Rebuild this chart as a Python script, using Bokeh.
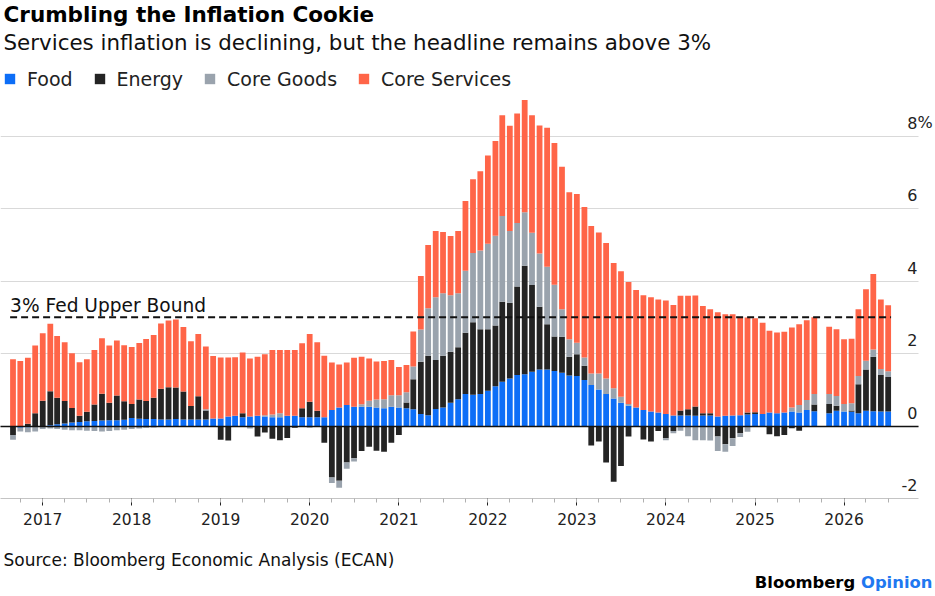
import numpy as np
import pandas as pd
from bokeh.plotting import figure
from bokeh.layouts import column
from bokeh.models import (ColumnDataSource, Range1d, FixedTicker, Grid, Label,
                          Legend, LegendItem, DatetimeTickFormatter)
from bokeh.embed import file_html
from bokeh.resources import INLINE

FONT = "DejaVu Sans"

# ---------------- data (percentage-point contributions to CPI y/y) ----------------
# Monthly, Sep 2016 .. Jul 2026; October 2025 was not published (gap in the chart)
months = pd.date_range("2016-09-01", "2026-07-01", freq="MS")
months = months[months != pd.Timestamp("2025-10-01")]

food = [
    -0.02, -0.05, -0.04, -0.02,                                              # 2016 Sep-Dec
    0.00, 0.02, 0.05, 0.07, 0.10, 0.11, 0.13, 0.14, 0.15, 0.16, 0.16, 0.17,  # 2017
    0.22, 0.20, 0.19, 0.19, 0.18, 0.18, 0.19, 0.18, 0.18, 0.18, 0.18, 0.21,  # 2018
    0.21, 0.26, 0.28, 0.24, 0.26, 0.28, 0.26, 0.24, 0.24, 0.28, 0.28, 0.24,  # 2019
    0.24, 0.24, 0.24, 0.44, 0.51, 0.58, 0.53, 0.53, 0.53, 0.51, 0.49, 0.53,  # 2020
    0.51, 0.49, 0.46, 0.33, 0.30, 0.47, 0.51, 0.64, 0.74, 0.88, 0.86, 0.88,  # 2021
    0.97, 1.10, 1.22, 1.31, 1.41, 1.43, 1.50, 1.56, 1.56, 1.52, 1.47, 1.39,  # 2022
    1.38, 1.27, 1.13, 1.01, 0.88, 0.76, 0.64, 0.56, 0.51, 0.44, 0.40, 0.37,  # 2023
    0.33, 0.29, 0.29, 0.29, 0.28, 0.29, 0.29, 0.26, 0.28, 0.29, 0.30, 0.32,  # 2024
    0.33, 0.33, 0.37, 0.35, 0.37, 0.40, 0.37, 0.44, 0.41, 0.35, 0.42,        # 2025 (no Oct)
    0.40, 0.39, 0.35, 0.42, 0.41, 0.40, 0.40,                                # 2026 Jan-Jul
]
energy = [
    -0.23, 0.00, 0.06, 0.35,
    0.70, 0.94, 0.73, 0.62, 0.40, 0.17, 0.26, 0.45, 0.74, 0.48, 0.68, 0.51,
    0.39, 0.53, 0.50, 0.59, 0.85, 0.89, 0.87, 0.77, 0.37, 0.64, 0.25, 0.00,
    -0.38, -0.40, 0.00, 0.11, 0.00, -0.29, -0.18, -0.35, -0.39, -0.33, -0.05, 0.25,
    0.43, 0.18, -0.46, -1.42, -1.51, -1.01, -0.89, -0.69, -0.57, -0.68, -0.71, -0.46,
    -0.25, 0.16, 0.83, 1.44, 1.64, 1.35, 1.43, 1.41, 1.43, 1.69, 2.00, 1.79,
    1.70, 1.67, 2.21, 2.09, 2.44, 2.99, 2.39, 1.73, 1.25, 0.95, 0.99, 0.52,
    0.60, 0.39, -0.54, -0.43, -1.01, -1.54, -1.10, -0.29, 0.00, -0.37, -0.43, -0.14,
    -0.34, -0.14, 0.14, 0.17, 0.26, 0.06, 0.06, -0.29, -0.50, -0.34, -0.20, 0.05,
    0.05, 0.00, -0.23, -0.28, -0.25, -0.06, -0.13, 0.00, 0.18, 0.26, 0.14,
    0.00, 0.04, 0.80, 1.14, 1.50, 1.01, 0.95,
]
core_goods = [
    -0.13, -0.10, -0.13, -0.13,
    -0.08, -0.07, -0.08, -0.10, -0.12, -0.12, -0.13, -0.14, -0.15, -0.14, -0.12, -0.10,
    -0.08, -0.07, -0.05, -0.04, -0.03, -0.02, -0.02, -0.02, -0.02, 0.00, 0.03, 0.00,
    0.00, 0.00, 0.00, 0.00, -0.07, 0.00, 0.04, 0.08, 0.11, 0.00, 0.00, 0.00,
    -0.05, 0.00, 0.00, -0.15, -0.19, -0.17, -0.09, 0.07, 0.17, 0.22, 0.25, 0.32,
    0.34, 0.28, 0.35, 0.89, 1.31, 1.73, 1.72, 1.56, 1.49, 1.71, 1.91, 2.17,
    2.36, 2.48, 2.36, 1.98, 1.75, 1.48, 1.44, 1.47, 1.58, 1.43, 0.76, 0.48,
    0.32, 0.23, 0.32, 0.44, 0.43, 0.28, 0.17, 0.05, 0.00, 0.00, 0.00, 0.00,
    -0.05, -0.06, -0.13, -0.28, -0.39, -0.39, -0.40, -0.40, -0.21, -0.21, -0.10, -0.16,
    0.00, 0.00, 0.00, 0.00, 0.00, 0.11, 0.21, 0.28, 0.29, 0.27, 0.27,
    0.21, 0.20, 0.23, 0.24, 0.20, 0.16, 0.16,
]
core_services = [
    1.84, 1.79, 1.82, 1.87,
    1.86, 1.86, 1.70, 1.62, 1.51, 1.48, 1.45, 1.51, 1.53, 1.58, 1.52, 1.55,
    1.57, 1.56, 1.71, 1.73, 1.80, 1.84, 1.88, 1.78, 1.79, 1.72, 1.73, 1.72,
    1.68, 1.63, 1.62, 1.68, 1.60, 1.63, 1.68, 1.78, 1.75, 1.82, 1.82, 1.79,
    1.87, 1.89, 1.70, 1.31, 1.19, 1.17, 1.35, 1.31, 1.16, 1.05, 1.05, 0.97,
    0.78, 0.75, 0.97, 1.48, 1.74, 1.83, 1.69, 1.63, 1.72, 1.93, 2.04, 2.19,
    2.43, 2.61, 2.78, 2.90, 3.02, 3.09, 3.24, 3.53, 3.84, 3.91, 3.93, 4.06,
    4.10, 4.15, 4.07, 3.89, 3.74, 3.46, 3.46, 3.36, 3.24, 3.17, 3.15, 3.12,
    3.13, 3.05, 3.16, 3.13, 3.06, 2.96, 2.87, 2.88, 2.80, 2.79, 2.69, 2.62,
    2.59, 2.52, 2.26, 2.23, 2.23, 2.21, 2.23, 2.20, 2.12, 1.86, 1.84,
    1.78, 1.78, 1.84, 1.97, 2.08, 1.92, 1.82,
]

series_names = ["Food", "Energy", "Core Goods", "Core Services"]
series_colors = ["#0D6EF7", "#242424", "#9AA3AD", "#FF6548"]

year_ticks = pd.date_range("2017-01-01", "2026-01-01", freq="YS")
quarter_ticks = pd.date_range("2016-10-01", "2026-07-01", freq="QS-JAN")
y_ticks = [-2, 0, 2, 4, 6, 8]
y_tick_labels = ["-2", "0", "2", "4", "6", "8"]
fed_upper_bound = 3.0

for arr in (food, energy, core_goods, core_services):
    assert len(arr) == len(months), len(arr)


def ms(t):
    return pd.Timestamp(t).value / 1e6


# ---------------- layout (page has no margin: figure px == page px) ----------------
W = 935
FRAME_B = 498          # page y of the frame bottom (value -2)
AXIS_H = 37            # x-axis panel below the frame
CHART_H = FRAME_B + AXIS_H
FOOT_H = 596 - CHART_H
GRID_END_PX = 918      # horizontal rules stop here
PX_PER_UNIT = 36.25
PX_PER_MONTH = 7.42
FIRST_BAR_PX = 12.5
MS_PER_PX = 30.4375 * 86400000 / PX_PER_MONTH
TXT_SHIFT = 0.31       # label anchor correction (in em) so baselines land where wanted
y_start = -2.0
y_end = y_start + FRAME_B / PX_PER_UNIT
x_start = ms(months[0]) - FIRST_BAR_PX * MS_PER_PX
x_end = x_start + W * MS_PER_PX
x_grid_end = x_start + GRID_END_PX * MS_PER_PX


def sy(page_y, size):
    return FRAME_B - page_y + TXT_SHIFT * size


p = figure(width=W, height=CHART_H, x_axis_type="datetime", y_axis_location=None,
           x_range=Range1d(x_start, x_end), y_range=Range1d(y_start, y_end),
           toolbar_location=None, output_backend="svg",
           min_border_left=0, min_border_right=0, min_border_top=0,
           min_border_bottom=AXIS_H,
           outline_line_color=None, background_fill_color="white",
           border_fill_color="white")
p.xgrid.visible = False
p.ygrid.visible = False

HAS_CROSS = "cross_bounds" in Grid.properties()


def hrules(ticks, color, width, level):
    if HAS_CROSS:
        p.add_layout(Grid(dimension=1, ticker=FixedTicker(ticks=ticks),
                          grid_line_color=color, grid_line_width=width,
                          cross_bounds=(x_start, x_grid_end), level=level))
    else:
        p.segment(x0=[x_start] * len(ticks), x1=[x_grid_end] * len(ticks),
                  y0=ticks, y1=ticks, line_color=color, line_width=width, level=level)


hrules(y_ticks, "#d9d9d9", 1, "underlay")

xa = p.xaxis[0]
xa.ticker = FixedTicker(ticks=[ms(t) for t in year_ticks],
                        minor_ticks=[ms(t) for t in quarter_ticks])
xa.formatter = DatetimeTickFormatter(years="%Y", months="%Y", days="%Y")
xa.bounds = (x_start, x_grid_end)
xa.axis_line_color = "#c4c4c4"
xa.major_tick_line_color = "#222222"
xa.major_tick_in = 0
xa.major_tick_out = 7
xa.minor_tick_line_color = "#b0b0b0"
xa.minor_tick_in = 0
xa.minor_tick_out = 4
xa.major_label_text_font = FONT
xa.major_label_text_font_size = "15.5px"
xa.major_label_text_color = "#222222"
xa.major_label_standoff = 7

# ---------------- stacked bars ----------------
bar_width = 0.78 * 30.44 * 24 * 3600 * 1000
pos = np.zeros(len(months))
neg = np.zeros(len(months))
renderers = []
for name, vals, color in zip(series_names, [food, energy, core_goods, core_services], series_colors):
    v = np.asarray(vals, dtype=float)
    base = np.where(v >= 0, pos, neg)
    top = base + v
    pos = np.where(v >= 0, top, pos)
    neg = np.where(v < 0, top, neg)
    src = ColumnDataSource(dict(x=months, bottom=base, top=top, value=v))
    r = p.vbar(x="x", width=bar_width, bottom="bottom", top="top", source=src,
               fill_color=color, line_color=None)
    renderers.append((name, r))

# zero line above the bars
hrules([0], "#111111", 1.5, "guide")

half = bar_width / 2
FED_SIZE = 18.6
p.segment(x0=[ms(months[0]) - half], x1=[ms(months[-1]) + half],
          y0=[fed_upper_bound], y1=[fed_upper_bound],
          line_color="#111111", line_width=2, line_dash="7 4")
p.add_layout(Label(x=ms(months[0]) - half, y=fed_upper_bound,
                   y_offset=6 + TXT_SHIFT * FED_SIZE,
                   text="3% Fed Upper Bound", text_font=FONT, text_font_size=f"{FED_SIZE}px",
                   text_color="#111111", text_align="left", text_baseline="alphabetic"))

# right-hand value labels, sitting above their gridlines
LAB_X = 917
LAB_SIZE = 16
for t, lab in zip(y_ticks, y_tick_labels):
    p.add_layout(Label(x=LAB_X, x_units="screen", y=t, y_units="data",
                       y_offset=8.5 + TXT_SHIFT * LAB_SIZE,
                       text=lab, text_font=FONT, text_font_size=f"{LAB_SIZE}px",
                       text_color="#222222", text_align="right", text_baseline="alphabetic"))
p.add_layout(Label(x=LAB_X, x_units="screen", y=y_ticks[-1], y_units="data",
                   y_offset=8.5 + TXT_SHIFT * LAB_SIZE,
                   text="%", text_font=FONT, text_font_size=f"{LAB_SIZE}px", text_color="#222222",
                   text_align="left", text_baseline="alphabetic"))

# legend (inside the frame, above the bars)
legend = Legend(items=[LegendItem(label=n, renderers=[r]) for n, r in renderers],
                orientation="horizontal", location=(3, FRAME_B - 89.5),
                glyph_width=13, glyph_height=13, label_standoff=11, spacing=20,
                padding=0, margin=0, border_line_color=None, background_fill_alpha=0,
                label_text_font=FONT, label_text_font_size="19px",
                label_text_color="#222222", label_height=13)
p.add_layout(legend)

# titles
TITLE_SIZE, SUB_SIZE = 21.5, 21.4
p.add_layout(Label(x=3, y=sy(20.5, TITLE_SIZE), x_units="screen", y_units="screen",
                   text="Crumbling the Inflation Cookie", text_font=FONT,
                   text_font_size=f"{TITLE_SIZE}px", text_font_style="bold",
                   text_color="#000000", text_baseline="alphabetic"))
p.add_layout(Label(x=3, y=sy(48.3, SUB_SIZE), x_units="screen", y_units="screen",
                   text="Services inflation is declining, but the headline remains above 3%",
                   text_font=FONT, text_font_size=f"{SUB_SIZE}px", text_color="#111111",
                   text_baseline="alphabetic"))

# ---------------- footer ----------------
foot = figure(width=W, height=FOOT_H, x_range=Range1d(0, 1), y_range=Range1d(0, 1),
              x_axis_location=None, y_axis_location=None, toolbar_location=None,
              output_backend="svg", min_border=0, outline_line_color=None,
              background_fill_color="white", border_fill_color="white")
foot.xgrid.visible = False
foot.ygrid.visible = False
FOOT_B = 596  # page y of footer bottom


def fy(page_y, size):
    return FOOT_B - page_y + TXT_SHIFT * size


SRC_SIZE = 17
foot.add_layout(Label(x=3, y=fy(565, SRC_SIZE), x_units="screen", y_units="screen",
                      text="Source: Bloomberg Economic Analysis (ECAN)",
                      text_font=FONT, text_font_size=f"{SRC_SIZE}px", text_color="#111111",
                      text_baseline="alphabetic"))
BO_SIZE = 16.4
bo_left = 932 - 10.835 * BO_SIZE
foot.add_layout(Label(x=bo_left, y=fy(587, BO_SIZE), x_units="screen", y_units="screen",
                      text="Bloomberg", text_font=FONT, text_font_size=f"{BO_SIZE}px",
                      text_font_style="bold", text_color="#000000", text_baseline="alphabetic"))
foot.add_layout(Label(x=bo_left + 6.472 * BO_SIZE, y=fy(587, BO_SIZE), x_units="screen",
                      y_units="screen", text="Opinion", text_font=FONT,
                      text_font_size=f"{BO_SIZE}px", text_font_style="bold",
                      text_color="#1F78F0", text_baseline="alphabetic"))

layout = column(p, foot, spacing=0)

with open("out.html", "w") as f:
    f.write(file_html(layout, INLINE))
